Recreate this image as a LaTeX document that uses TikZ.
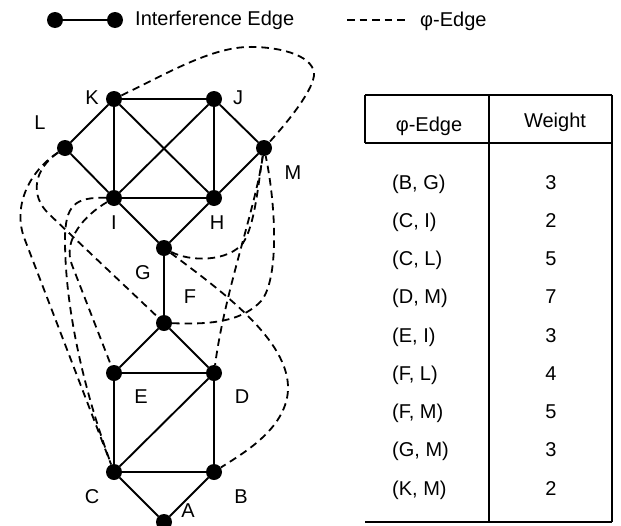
\documentclass[tikz,border=0pt]{standalone}
\usepackage{fontspec}
\setmainfont{Liberation Sans}
\begin{document}
\begin{tikzpicture}[x=1pt,y=-1pt,
  vtx/.style={circle,fill=black,inner sep=0pt,minimum size=16pt},
  lbl/.style={inner sep=0pt,font=\fontsize{20}{23}\selectfont},
  ie/.style={line width=1.9pt},
  pe/.style={line width=1.8pt,dash pattern=on 7.5pt off 5pt},
  tl/.style={line width=1.5pt}]
\useasboundingbox (0,0) rectangle (621,525);
% legend
\node[vtx] (ld1) at (55,20) {};
\node[vtx] (ld2) at (115,20) {};
\draw[ie] (ld1) -- (ld2);
\node[lbl,anchor=west] (lt1) at (135,20) {Interference Edge};
\coordinate (lp1) at (347,20);
\coordinate (lp2) at (409,20);
\draw[pe] (lp1) -- (lp2);
\node[lbl,anchor=west] (lt2) at (420,21) {φ-Edge};
% vertices
\node[vtx] (K) at (114,99) {};
\node[vtx] (J) at (214,99) {};
\node[vtx] (L) at (65,148) {};
\node[vtx] (M) at (264,148) {};
\node[vtx] (I) at (114,198) {};
\node[vtx] (H) at (214,198) {};
\node[vtx] (G) at (164,248) {};
\node[vtx] (F) at (164,323) {};
\node[vtx] (E) at (114,373) {};
\node[vtx] (D) at (214,373) {};
\node[vtx] (C) at (114,472) {};
\node[vtx] (B) at (214,472) {};
\node[vtx] (A) at (164,522) {};
% labels
\node[lbl] (lK) at (92,98) {K};
\node[lbl] (lJ) at (238,98) {J};
\node[lbl] (lL) at (40,123) {L};
\node[lbl] (lM) at (293,173) {M};
\node[lbl] (lI) at (114,223) {I};
\node[lbl] (lH) at (217,223) {H};
\node[lbl] (lG) at (143,273) {G};
\node[lbl] (lF) at (190,297) {F};
\node[lbl] (lE) at (141,397) {E};
\node[lbl] (lD) at (242,397) {D};
\node[lbl] (lC) at (92,497) {C};
\node[lbl] (lB) at (241,497) {B};
\node[lbl] (lA) at (188,511) {A};
% interference edges
\draw[ie] (K) -- (J);
\draw[ie] (K) -- (L);
\draw[ie] (K) -- (I);
\draw[ie] (K) -- (H);
\draw[ie] (J) -- (I);
\draw[ie] (J) -- (H);
\draw[ie] (J) -- (M);
\draw[ie] (L) -- (I);
\draw[ie] (I) -- (H);
\draw[ie] (M) -- (H);
\draw[ie] (I) -- (G);
\draw[ie] (H) -- (G);
\draw[ie] (G) -- (F);
\draw[ie] (F) -- (E);
\draw[ie] (F) -- (D);
\draw[ie] (E) -- (D);
\draw[ie] (E) -- (C);
\draw[ie] (D) -- (C);
\draw[ie] (D) -- (B);
\draw[ie] (C) -- (B);
\draw[ie] (C) -- (A);
\draw[ie] (B) -- (A);
% phi edges
\draw[pe] (K) .. controls (170,72) and (215,45) .. (255,47)
          .. controls (290,48) and (320,60) .. (313,80)
          .. controls (308,97) and (285,125) .. (M);
\draw[pe] (L) .. controls (28,172) and (12,208) .. (25,240) -- (C);
\draw[pe] (L) .. controls (35,168) and (28,195) .. (50,215) -- (F);
\draw[pe] (I) .. controls (75,197) and (65,205) .. (65,240)
          .. controls (65,300) and (80,380) .. (C);
\draw[pe] (I) .. controls (85,215) and (62,240) .. (72,265) -- (E);
\draw[pe] (G) .. controls (190,262) and (228,262) .. (243,243)
          .. controls (255,225) and (258,185) .. (M);
\draw[pe] (M) .. controls (255,210) and (225,290) .. (D);
\draw[pe] (F) .. controls (200,324) and (240,325) .. (262,300)
          .. controls (280,275) and (275,200) .. (M);
\draw[pe] (G) .. controls (220,290) and (290,340) .. (288,390)
          .. controls (286,430) and (240,455) .. (B);
% table
\coordinate (t1) at (365,95);
\coordinate (t2) at (612,95);
\coordinate (t3) at (365,143);
\coordinate (t4) at (612,143);
\coordinate (t5) at (365,522);
\coordinate (t6) at (612,522);
\coordinate (d1) at (489,95);
\coordinate (d2) at (489,522);
\draw[tl] (t1) -- (t2);
\draw[tl] (t3) -- (t4);
\draw[tl] (t5) -- (t6);
\draw[tl] (t1) -- (t3);
\draw[tl] (t2) -- (t6);
\draw[tl] (d1) -- (d2);
\node[lbl] (h1) at (429,126) {φ-Edge};
\node[lbl] (h2) at (555,122) {Weight};
\foreach \e/\w [count=\k from 0] in {(B, G)/3,(C, I)/2,(C, L)/5,(D, M)/7,(E, I)/3,(F, L)/4,(F, M)/5,(G, M)/3,(K, M)/2}{
  \node[lbl,anchor=base west] (r\k) at (392,182+38.25*\k+7) {\e};
  \node[lbl,anchor=base] (w\k) at (551,182+38.25*\k+7) {\w};
}
\end{tikzpicture}
\end{document}
